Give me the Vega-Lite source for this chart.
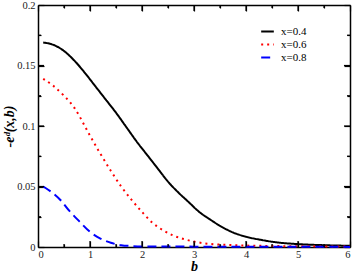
{
  "$schema": "https://vega.github.io/schema/vega-lite/v6.json",
  "width": 312,
  "height": 242,
  "autosize": "none",
  "padding": {"left": 38, "top": 5, "right": 4, "bottom": 26},
  "background": "white",
  "config": {
    "view": {"stroke": null},
    "font": "Liberation Serif",
    "axis": {"domainColor": "black", "domainWidth": 1.5, "ticks": true, "tickColor": "black", "tickWidth": 1.2, "tickOpacity": 1, "labelFont": "Liberation Serif", "labelFontSize": 10.5, "labelColor": "#222", "grid": false, "titleFont": "Liberation Serif"}
  },
  "datasets": {
    "xmaj": [{"t": 1}, {"t": 2}, {"t": 3}, {"t": 4}, {"t": 5}],
    "xmin": [{"t": 0.5}, {"t": 1.5}, {"t": 2.5}, {"t": 3.5}, {"t": 4.5}, {"t": 5.5}],
    "ymaj": [{"t": 0.05}, {"t": 0.1}, {"t": 0.15}],
    "ymin": [{"t": 0.025}, {"t": 0.075}, {"t": 0.125}, {"t": 0.175}],
    "curves": [
    {"b": 0.1, "v": 0.169, "s": "x=0.4"},
    {"b": 0.3, "v": 0.167, "s": "x=0.4"},
    {"b": 0.5, "v": 0.162, "s": "x=0.4"},
    {"b": 0.7, "v": 0.154, "s": "x=0.4"},
    {"b": 0.9, "v": 0.144, "s": "x=0.4"},
    {"b": 1.1, "v": 0.133, "s": "x=0.4"},
    {"b": 1.3, "v": 0.122, "s": "x=0.4"},
    {"b": 1.5, "v": 0.111, "s": "x=0.4"},
    {"b": 1.7, "v": 0.099, "s": "x=0.4"},
    {"b": 1.9, "v": 0.087, "s": "x=0.4"},
    {"b": 2.1, "v": 0.076, "s": "x=0.4"},
    {"b": 2.3, "v": 0.065, "s": "x=0.4"},
    {"b": 2.5, "v": 0.054, "s": "x=0.4"},
    {"b": 2.7, "v": 0.045, "s": "x=0.4"},
    {"b": 2.9, "v": 0.037, "s": "x=0.4"},
    {"b": 3.1, "v": 0.029, "s": "x=0.4"},
    {"b": 3.3, "v": 0.023, "s": "x=0.4"},
    {"b": 3.5, "v": 0.0175, "s": "x=0.4"},
    {"b": 3.75, "v": 0.012, "s": "x=0.4"},
    {"b": 4.0, "v": 0.0085, "s": "x=0.4"},
    {"b": 4.3, "v": 0.0058, "s": "x=0.4"},
    {"b": 4.6, "v": 0.0038, "s": "x=0.4"},
    {"b": 5.0, "v": 0.0024, "s": "x=0.4"},
    {"b": 5.5, "v": 0.0015, "s": "x=0.4"},
    {"b": 6.0, "v": 0.001, "s": "x=0.4"},
    {"b": 0.1, "v": 0.139, "s": "x=0.6"},
    {"b": 0.3, "v": 0.133, "s": "x=0.6"},
    {"b": 0.5, "v": 0.125, "s": "x=0.6"},
    {"b": 0.7, "v": 0.115, "s": "x=0.6"},
    {"b": 0.9, "v": 0.100, "s": "x=0.6"},
    {"b": 1.0, "v": 0.092, "s": "x=0.6"},
    {"b": 1.2, "v": 0.077, "s": "x=0.6"},
    {"b": 1.4, "v": 0.063, "s": "x=0.6"},
    {"b": 1.6, "v": 0.050, "s": "x=0.6"},
    {"b": 1.8, "v": 0.039, "s": "x=0.6"},
    {"b": 2.0, "v": 0.029, "s": "x=0.6"},
    {"b": 2.2, "v": 0.020, "s": "x=0.6"},
    {"b": 2.4, "v": 0.014, "s": "x=0.6"},
    {"b": 2.6, "v": 0.0095, "s": "x=0.6"},
    {"b": 2.8, "v": 0.0066, "s": "x=0.6"},
    {"b": 3.0, "v": 0.0045, "s": "x=0.6"},
    {"b": 3.2, "v": 0.003, "s": "x=0.6"},
    {"b": 3.5, "v": 0.002, "s": "x=0.6"},
    {"b": 4.0, "v": 0.0012, "s": "x=0.6"},
    {"b": 4.5, "v": 0.0008, "s": "x=0.6"},
    {"b": 5.0, "v": 0.0006, "s": "x=0.6"},
    {"b": 6.0, "v": 0.0004, "s": "x=0.6"},
    {"b": 0.1, "v": 0.050, "s": "x=0.8"},
    {"b": 0.3, "v": 0.044, "s": "x=0.8"},
    {"b": 0.45, "v": 0.038, "s": "x=0.8"},
    {"b": 0.6, "v": 0.030, "s": "x=0.8"},
    {"b": 0.8, "v": 0.021, "s": "x=0.8"},
    {"b": 1.0, "v": 0.0125, "s": "x=0.8"},
    {"b": 1.2, "v": 0.007, "s": "x=0.8"},
    {"b": 1.4, "v": 0.0035, "s": "x=0.8"},
    {"b": 1.6, "v": 0.0015, "s": "x=0.8"},
    {"b": 1.8, "v": 0.0008, "s": "x=0.8"},
    {"b": 2.0, "v": 0.0005, "s": "x=0.8"},
    {"b": 3.0, "v": 0.0003, "s": "x=0.8"},
    {"b": 4.0, "v": 0.0002, "s": "x=0.8"},
    {"b": 6.0, "v": 0.0001, "s": "x=0.8"}
    ]
  },
  "layer": [
    {
      "data": {"name": "curves"},
      "mark": {"type": "line", "strokeWidth": 2, "interpolate": "monotone"},
      "encoding": {
        "x": {"field": "b", "type": "quantitative", "scale": {"domain": [0, 6], "nice": false},
          "axis": {"orient": "bottom", "values": [0,0.5,1,1.5,2,2.5,3,3.5,4,4.5,5,5.5,6],
            "ticks": true, "tickColor": "black", "tickWidth": 1.2,
            "tickSize": {"condition": {"test": "datum.value % 1 === 0", "value": -6}, "value": -3},
            "labelExpr": "datum.value % 1 === 0 ? format(datum.value, 'd') : ''",
            "labelPadding": 8, "title": "b", "titleFontSize": 14, "titleFontWeight": "bold", "titleFontStyle": "italic", "titlePadding": 0}},
        "y": {"field": "v", "type": "quantitative", "scale": {"domain": [0, 0.2], "nice": false},
          "axis": {"orient": "left", "values": [0,0.025,0.05,0.075,0.1,0.125,0.15,0.175,0.2],
            "ticks": true, "tickColor": "black", "tickWidth": 1.2,
            "tickSize": {"condition": {"test": "abs(datum.value*20 - round(datum.value*20)) < 1e-6", "value": -6}, "value": -3},
            "labelExpr": "abs(datum.value*20 - round(datum.value*20)) < 1e-6 ? format(datum.value, '~g') : ''",
            "labelPadding": 9, "title": "-eᵈ(x,b)", "titleFontSize": 14, "titleFontWeight": "bold", "titleFontStyle": "italic", "titlePadding": 0}},
        "color": {"field": "s", "type": "nominal", "scale": {"domain": ["x=0.4", "x=0.6", "x=0.8"], "range": ["black", "red", "blue"]},
          "legend": {"orient": "none", "legendX": 222, "legendY": 19, "title": null, "symbolType": "stroke", "symbolStrokeWidth": 2, "symbolSize": 160, "labelFont": "Liberation Serif", "labelFontSize": 11, "labelColor": "black", "rowPadding": 0, "labelOffset": 6, "padding": 0}},
        "strokeDash": {"field": "s", "type": "nominal", "scale": {"domain": ["x=0.4", "x=0.6", "x=0.8"], "range": [[1, 0], [2, 4], [9, 5]]},
          "legend": {"orient": "none", "legendX": 222, "legendY": 19, "title": null, "symbolType": "stroke", "symbolStrokeWidth": 2, "symbolSize": 160, "labelFont": "Liberation Serif", "labelFontSize": 11, "labelColor": "black", "rowPadding": 0, "labelOffset": 6, "padding": 0}}
      }
    },
    {
      "data": {"name": "curves"},
      "mark": {"type": "line", "opacity": 0},
      "encoding": {
        "x": {"field": "b", "type": "quantitative", "scale": {"domain": [0, 6], "nice": false},
          "axis": {"orient": "top", "values": [0,0.5,1,1.5,2,2.5,3,3.5,4,4.5,5,5.5,6],
            "ticks": true, "tickColor": "black", "tickWidth": 1.2,
            "tickSize": {"condition": {"test": "datum.value % 1 === 0", "value": -6}, "value": -3},
            "labels": false, "title": null}},
        "y": {"field": "v", "type": "quantitative", "scale": {"domain": [0, 0.2], "nice": false},
          "axis": {"orient": "right", "values": [0,0.025,0.05,0.075,0.1,0.125,0.15,0.175,0.2],
            "ticks": true, "tickColor": "black", "tickWidth": 1.2,
            "tickSize": {"condition": {"test": "abs(datum.value*20 - round(datum.value*20)) < 1e-6", "value": -6}, "value": -3},
            "labels": false, "title": null}},
        "detail": {"field": "s"}
      }
    },
    {
      "data": {"name": "xmaj"},
      "mark": {"type": "rule", "color": "black", "strokeWidth": 1.2},
      "encoding": {
        "x": {"field": "t", "type": "quantitative", "axis": null},
        "y": {"datum": 0, "type": "quantitative", "axis": null},
        "y2": {"datum": 0.005}
      }
    },
    {
      "data": {"name": "xmin"},
      "mark": {"type": "rule", "color": "black", "strokeWidth": 1.2},
      "encoding": {
        "x": {"field": "t", "type": "quantitative", "axis": null},
        "y": {"datum": 0, "type": "quantitative", "axis": null},
        "y2": {"datum": 0.0025}
      }
    },
    {
      "data": {"name": "xmaj"},
      "mark": {"type": "rule", "color": "black", "strokeWidth": 1.2},
      "encoding": {
        "x": {"field": "t", "type": "quantitative", "axis": null},
        "y": {"datum": 0.2, "type": "quantitative", "axis": null},
        "y2": {"datum": 0.195}
      }
    },
    {
      "data": {"name": "xmin"},
      "mark": {"type": "rule", "color": "black", "strokeWidth": 1.2},
      "encoding": {
        "x": {"field": "t", "type": "quantitative", "axis": null},
        "y": {"datum": 0.2, "type": "quantitative", "axis": null},
        "y2": {"datum": 0.1975}
      }
    },
    {
      "data": {"name": "ymaj"},
      "mark": {"type": "rule", "color": "black", "strokeWidth": 1.2},
      "encoding": {
        "y": {"field": "t", "type": "quantitative", "axis": null},
        "x": {"datum": 0, "type": "quantitative", "axis": null},
        "x2": {"datum": 0.116}
      }
    },
    {
      "data": {"name": "ymin"},
      "mark": {"type": "rule", "color": "black", "strokeWidth": 1.2},
      "encoding": {
        "y": {"field": "t", "type": "quantitative", "axis": null},
        "x": {"datum": 0, "type": "quantitative", "axis": null},
        "x2": {"datum": 0.058}
      }
    },
    {
      "data": {"name": "ymaj"},
      "mark": {"type": "rule", "color": "black", "strokeWidth": 1.2},
      "encoding": {
        "y": {"field": "t", "type": "quantitative", "axis": null},
        "x": {"datum": 6, "type": "quantitative", "axis": null},
        "x2": {"datum": 5.884}
      }
    },
    {
      "data": {"name": "ymin"},
      "mark": {"type": "rule", "color": "black", "strokeWidth": 1.2},
      "encoding": {
        "y": {"field": "t", "type": "quantitative", "axis": null},
        "x": {"datum": 6, "type": "quantitative", "axis": null},
        "x2": {"datum": 5.942}
      }
    }
  ],
  "resolve": {"axis": {"x": "independent", "y": "independent"}}
}
